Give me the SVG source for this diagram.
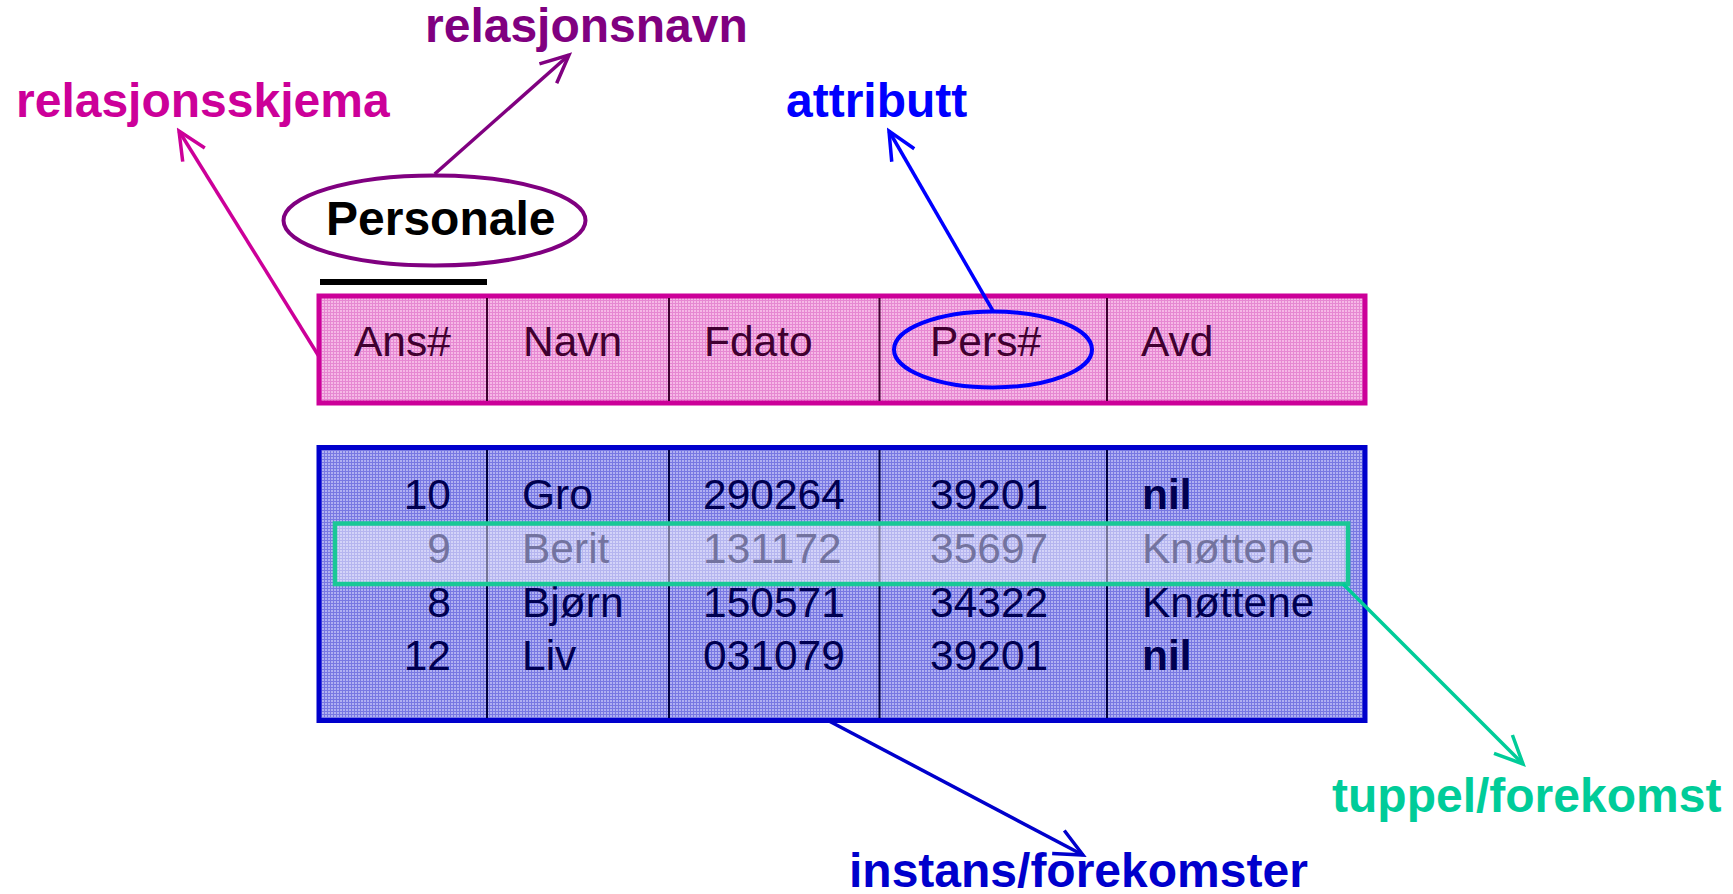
<svg xmlns="http://www.w3.org/2000/svg" width="1733" height="894" viewBox="0 0 1733 894">
<style>
text{font-family:"Liberation Sans",Arial,sans-serif}
.lbl{font-size:48px;font-weight:bold}
.cell{font-size:42.5px}
.hdr{fill:#400030}
.row{fill:#000050}
.b{font-weight:bold}
.num{text-anchor:end}
.conn{fill:none;stroke-width:3.5}
.div1{stroke:#400030;stroke-width:2}
.div2{stroke:#000040;stroke-width:2}
</style>
<defs>
<pattern id="pinkPat" width="3" height="3" patternUnits="userSpaceOnUse">
<rect width="3" height="3" fill="#F6B8E6"/>
<rect width="3" height="1" fill="#E688D2"/>
<rect width="1" height="3" fill="#E688D2"/>
</pattern>
<pattern id="bluePat" width="3" height="3" patternUnits="userSpaceOnUse">
<rect width="3" height="3" fill="#B0B0F2"/>
<rect width="3" height="1" fill="#7878E2"/>
<rect width="1" height="3" fill="#7878E2"/>
</pattern>
<marker id="aMag" markerUnits="userSpaceOnUse" viewBox="-32 -16 36 32" refX="0" refY="0" markerWidth="36" markerHeight="32" orient="auto"><path d="M-28,-13 L0,0 L-28,13" fill="none" stroke="#CC0099" stroke-width="3.5"/></marker>
<marker id="aPur" markerUnits="userSpaceOnUse" viewBox="-32 -16 36 32" refX="0" refY="0" markerWidth="36" markerHeight="32" orient="auto"><path d="M-28,-13 L0,0 L-28,13" fill="none" stroke="#800080" stroke-width="3.5"/></marker>
<marker id="aBlu" markerUnits="userSpaceOnUse" viewBox="-32 -16 36 32" refX="0" refY="0" markerWidth="36" markerHeight="32" orient="auto"><path d="M-28,-13 L0,0 L-28,13" fill="none" stroke="#0000FF" stroke-width="3.5"/></marker>
<marker id="aGrn" markerUnits="userSpaceOnUse" viewBox="-32 -16 36 32" refX="0" refY="0" markerWidth="36" markerHeight="32" orient="auto"><path d="M-28,-13 L0,0 L-28,13" fill="none" stroke="#00CC99" stroke-width="3.5"/></marker>
<marker id="aDbl" markerUnits="userSpaceOnUse" viewBox="-32 -16 36 32" refX="0" refY="0" markerWidth="36" markerHeight="32" orient="auto"><path d="M-28,-13 L0,0 L-28,13" fill="none" stroke="#0000CC" stroke-width="3.5"/></marker>
</defs>
<rect width="1733" height="894" fill="#FFFFFF"/>

<g id="schema">
<rect x="319" y="296" width="1046" height="107" fill="url(#pinkPat)" stroke="#CC0099" stroke-width="5"/>
<line class="div1" x1="487" y1="298" x2="487" y2="401"/>
<line class="div1" x1="669" y1="298" x2="669" y2="401"/>
<line class="div1" x1="879.5" y1="298" x2="879.5" y2="401"/>
<line class="div1" x1="1107" y1="298" x2="1107" y2="401"/>
<text class="cell hdr" x="354" y="356">Ans#</text>
<text class="cell hdr" x="523" y="356">Navn</text>
<text class="cell hdr" x="704" y="356">Fdato</text>
<text class="cell hdr" x="930" y="356">Pers#</text>
<text class="cell hdr" x="1141" y="356">Avd</text>
</g>

<g id="key-bar">
<rect x="320" y="279" width="167" height="6" fill="#000000"/>
</g>

<g id="pers-ellipse">
<ellipse cx="993" cy="349.5" rx="99" ry="38" fill="none" stroke="#0000FF" stroke-width="4"/>
</g>

<g id="personale">
<ellipse cx="434.5" cy="220.5" rx="151" ry="45" fill="#FFFFFF" stroke="#800080" stroke-width="4"/>
<text class="lbl" x="326" y="235" fill="#000000">Personale</text>
</g>

<g id="instance">
<rect x="319" y="447.5" width="1046" height="273" fill="url(#bluePat)" stroke="#0000CC" stroke-width="5"/>
<line class="div2" x1="487" y1="450" x2="487" y2="718"/>
<line class="div2" x1="669" y1="450" x2="669" y2="718"/>
<line class="div2" x1="879.5" y1="450" x2="879.5" y2="718"/>
<line class="div2" x1="1107" y1="450" x2="1107" y2="718"/>
<g class="cell row">
<text class="num" x="451" y="509">10</text><text x="522" y="509">Gro</text><text x="703" y="509">290264</text><text x="930" y="509">39201</text><text class="b" x="1142" y="509">nil</text>
<text class="num" x="451" y="563">9</text><text x="522" y="563">Berit</text><text x="703" y="563">131172</text><text x="930" y="563">35697</text><text x="1142" y="563">Knøttene</text>
<text class="num" x="451" y="617">8</text><text x="522" y="617">Bjørn</text><text x="703" y="617">150571</text><text x="930" y="617">34322</text><text x="1142" y="617">Knøttene</text>
<text class="num" x="451" y="670">12</text><text x="522" y="670">Liv</text><text x="703" y="670">031079</text><text x="930" y="670">39201</text><text class="b" x="1142" y="670">nil</text>
</g>
</g>

<g id="tuple-highlight">
<rect x="335" y="523.5" width="1013" height="60.5" fill="#FFFFFF" fill-opacity="0.45" stroke="#19C896" stroke-width="4.5"/>
</g>

<g id="connectors">
<line class="conn" x1="319" y1="356.5" x2="179" y2="131" stroke="#CC0099" marker-end="url(#aMag)"/>
<line class="conn" x1="434.7" y1="174" x2="569" y2="55" stroke="#800080" marker-end="url(#aPur)"/>
<line class="conn" x1="993" y1="311" x2="889" y2="131" stroke="#0000FF" marker-end="url(#aBlu)"/>
<line class="conn" x1="1343" y1="584" x2="1523" y2="764" stroke="#00CC99" marker-end="url(#aGrn)"/>
<line class="conn" x1="829" y1="721" x2="1083" y2="855" stroke="#0000CC" marker-end="url(#aDbl)"/>
</g>

<g id="labels">
<text id="lbl-skjema" class="lbl" x="16" y="117" fill="#CC0099">relasjonsskjema</text>
<text id="lbl-navn" class="lbl" x="425" y="42" fill="#800080">relasjonsnavn</text>
<text id="lbl-attr" class="lbl" x="786" y="117" fill="#0000FF">attributt</text>
<text id="lbl-tuppel" class="lbl" x="1332" y="812" fill="#00CC99">tuppel/forekomst</text>
<text id="lbl-instans" class="lbl" x="849" y="887" fill="#0000CC">instans/forekomster</text>
</g>
</svg>
